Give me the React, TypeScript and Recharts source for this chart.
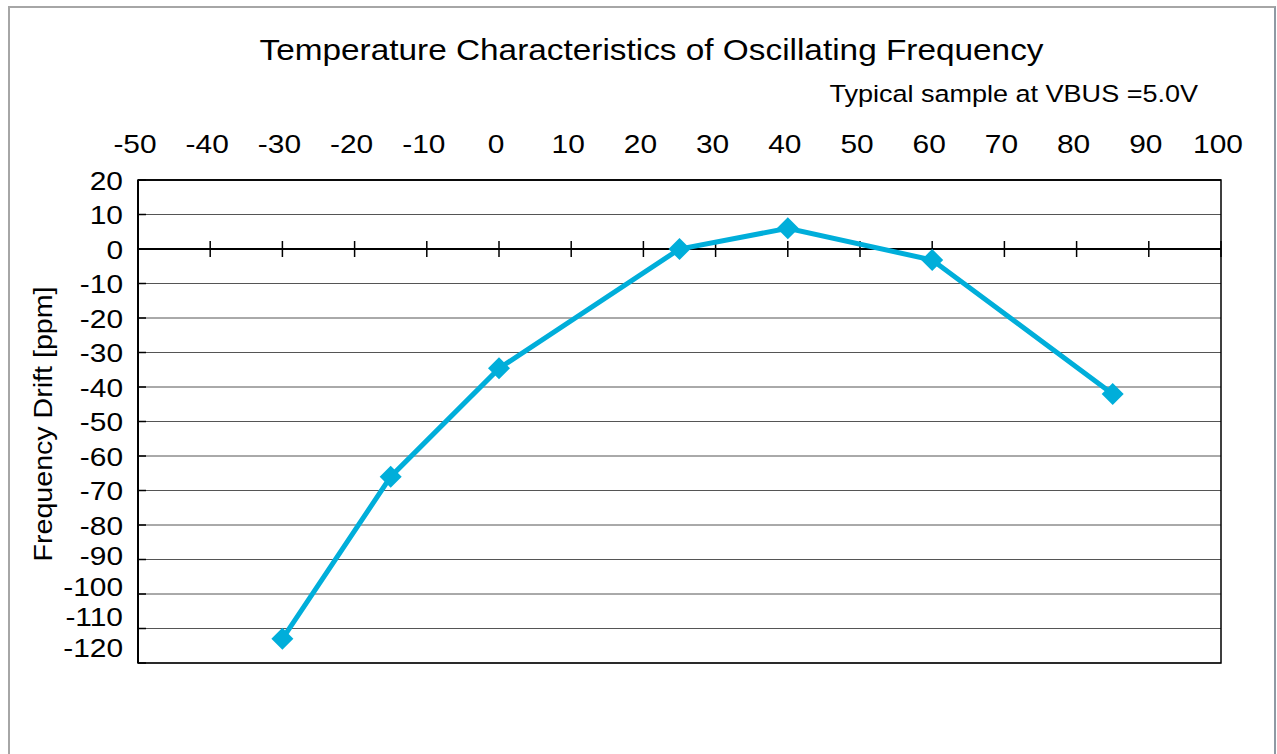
import React from "react";
import {
  LineChart,
  Line,
  XAxis,
  YAxis,
  CartesianGrid,
  ReferenceLine,
  ReferenceArea,
} from "recharts";

// temperature [deg C] and drift [ppm]
const temps = [-30, -15, 0, 25, 40, 60, 85];
const drift = [-113, -66, -34.6, 0, 6, -3.2, -42];

const xTicks = [-50, -40, -30, -20, -10, 0, 10, 20, 30, 40, 50, 60, 70, 80, 90, 100];
const yTicks = [20, 10, 0, -10, -20, -30, -40, -50, -60, -70, -80, -90, -100, -110, -120];
const xDomain = [-50, 100];
const yDomain = [-120, 20];

const title = "Temperature Characteristics of Oscillating Frequency";
const subtitle = "Typical sample at VBUS =5.0V";
const yLabel = "Frequency Drift [ppm]";

const data = temps.map((t, i) => ({ temp: t, drift: drift[i] }));

const FONT = "'Liberation Sans', Arial, sans-serif";
const STRETCH = 1.15;
const LINE_COLOR = "#00AEDA";

function TopTick(props: any) {
  const { x, y, payload } = props;
  return (
    <text
      transform={`translate(${x - 3},${y - 27}) scale(${STRETCH},1)`}
      textAnchor="middle"
      fontFamily={FONT}
      fontSize={26}
      fill="#000"
    >
      {payload.value}
    </text>
  );
}

function LeftTick(props: any) {
  const { x, y, payload } = props;
  const axisX = x + 15; // tickMargin back to the axis line
  // the original's lowest labels creep up above their grid lines
  const lift = payload.value < -80 ? (-80 - payload.value) * 0.4 : 0;
  return (
    <g>
      <line x1={axisX} x2={axisX + 8} y1={y} y2={y} stroke="#000" strokeWidth={1.5} />
      <text
        transform={`translate(${x},${y + 9.5 - lift}) scale(${STRETCH},1)`}
        textAnchor="end"
        fontFamily={FONT}
        fontSize={26}
        fill="#000"
      >
        {payload.value}
      </text>
    </g>
  );
}

// the zero line carries the cross ticks of the x axis
function ZeroAxis(props: any) {
  const { x1, y1, x2 } = props;
  const span = xDomain[1] - xDomain[0];
  return (
    <g>
      <line x1={x1} y1={y1} x2={x2} y2={y1} stroke="#000" strokeWidth={2} />
      {xTicks
        .filter((v) => v > xDomain[0])
        .map((v) => {
          const px = x1 + ((v - xDomain[0]) / span) * (x2 - x1);
          return (
            <line key={v} x1={px} x2={px} y1={y1 - 8} y2={y1 + 8} stroke="#000" strokeWidth={1.5} />
          );
        })}
    </g>
  );
}

function Diamond(props: any) {
  const { cx, cy } = props;
  if (cx == null || cy == null) return null;
  return (
    <polygon
      points={`${cx},${cy - 11} ${cx + 11},${cy} ${cx},${cy + 11} ${cx - 11},${cy}`}
      fill={LINE_COLOR}
    />
  );
}

export default function App() {
  return (
    <div
      style={{
        position: "absolute",
        left: 0,
        top: 0,
        width: 1277,
        height: 754,
        overflow: "hidden",
        background: "#fff",
      }}
    >
      <div
        style={{
          position: "absolute",
          left: 8,
          top: 6,
          width: 1268,
          height: 900,
          boxSizing: "border-box",
          borderTop: "2px solid #a6a6a6",
          borderLeft: "2px solid #a6a6a6",
          borderRight: "2px solid #8e9aa4",
        }}
      />
      <div style={{ position: "absolute", left: 0, top: 0 }}>
        <LineChart
          width={1277}
          height={754}
          data={data}
          margin={{ top: 0, right: 56, bottom: 91, left: 0 }}
        >
          <CartesianGrid vertical={false} stroke="#555" strokeWidth={1} />
          <XAxis
            type="number"
            dataKey="temp"
            orientation="top"
            domain={xDomain}
            ticks={xTicks}
            interval={0}
            height={180}
            tickSize={0}
            tickMargin={0}
            tickLine={false}
            axisLine={{ stroke: "#000", strokeWidth: 1.5 }}
            tick={<TopTick />}
            allowDataOverflow
          />
          <YAxis
            type="number"
            domain={yDomain}
            ticks={yTicks}
            interval={0}
            width={138}
            tickSize={0}
            tickMargin={15}
            tickLine={false}
            axisLine={{ stroke: "#000", strokeWidth: 2 }}
            tick={<LeftTick />}
            allowDataOverflow
          />
          <ReferenceArea
            x1={xDomain[0]}
            x2={xDomain[1]}
            y1={yDomain[0]}
            y2={yDomain[1]}
            fill="none"
            fillOpacity={0}
            stroke="#000"
            strokeWidth={1.5}
          />
          <ReferenceLine y={0} shape={(p: any) => <ZeroAxis {...p} />} />
          <Line
            type="linear"
            dataKey="drift"
            stroke={LINE_COLOR}
            strokeWidth={5}
            dot={(p: any) => <Diamond key={p.index} {...p} />}
            activeDot={false}
            isAnimationActive={false}
          />
        </LineChart>
      </div>
      <svg
        width={1277}
        height={754}
        style={{ position: "absolute", left: 0, top: 0, pointerEvents: "none" }}
      >
        <text
          transform={`translate(651.5,60) scale(${STRETCH},1)`}
          textAnchor="middle"
          fontFamily={FONT}
          fontSize={29}
          fill="#000"
        >
          {title}
        </text>
        <text
          transform={`translate(1198,102) scale(${STRETCH},1)`}
          textAnchor="end"
          fontFamily={FONT}
          fontSize={23.5}
          fill="#000"
        >
          {subtitle}
        </text>
        <text
          transform="translate(52,424) rotate(-90) scale(1.1,1)"
          textAnchor="middle"
          fontFamily={FONT}
          fontSize={26}
          fill="#000"
        >
          {yLabel}
        </text>
      </svg>
    </div>
  );
}
